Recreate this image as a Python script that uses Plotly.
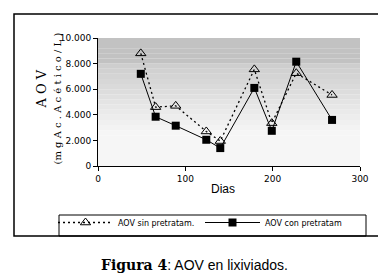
import plotly.graph_objects as go

dias = [49, 66, 89, 124, 140, 179, 199, 227, 268]
aov_sin = [8800, 4600, 4700, 2700, 1950, 7550, 3350, 7250, 5550]
aov_con = [7200, 3850, 3150, 2050, 1400, 6100, 2750, 8150, 3600]

y_tickvals = [0, 2000, 4000, 6000, 8000, 10000]
y_ticktext = ["0", "2.000", "4.000", "6.000", "8.000", "10.000"]
x_tickvals = [0, 100, 200, 300]
x_ticktext = ["0", "100", "200", "300"]

W, H = 386, 278
L, R, T, B = 90, 34, 30, 120
pw, ph = W - L - R, H - T - B


def px_x(p):
    return (p - L) / pw


def px_y(p):
    return (H - B - p) / ph


fig = go.Figure()

fig.add_trace(go.Scatter(
    x=dias, y=aov_sin, name="AOV sin pretratam.",
    mode="lines+markers",
    line=dict(color="black", width=1.3, dash="2px,3px"),
    marker=dict(symbol="triangle-up-open", size=9, color="black", line=dict(width=1)),
))
fig.add_trace(go.Scatter(
    x=dias, y=aov_con, name="AOV con pretratam",
    mode="lines+markers",
    line=dict(color="black", width=1),
    marker=dict(symbol="square", size=8, color="black"),
))

shapes = []
# graded grey background
shapes.append(dict(type="rect", xref="x domain", yref="y", x0=0, x1=1, y0=0, y1=2400,
                   fillcolor="#f6f6f6", line=dict(width=0), layer="below"))
step = 400
y = 2400
while y < 10000:
    y1 = y + step
    mid = y + step / 2
    if mid >= 8000:
        g = 194
    else:
        g = int(round(248 - (mid - 2400) / (8000 - 2400) * (248 - 204)))
    shapes.append(dict(type="rect", xref="x domain", yref="y", x0=0, x1=1, y0=y, y1=y1,
                       fillcolor=f"rgb({g},{g},{g})", line=dict(width=0), layer="below"))
    y = y1
# outer frame
shapes.append(dict(type="rect", xref="paper", yref="paper",
                   x0=px_x(6), x1=px_x(381), y0=px_y(228), y1=px_y(6),
                   line=dict(color="black", width=1.5), fillcolor="rgba(0,0,0,0)"))
# legend frame
shapes.append(dict(type="rect", xref="paper", yref="paper",
                   x0=px_x(51), x1=px_x(358), y0=px_y(228), y1=px_y(207),
                   line=dict(color="black", width=1), fillcolor="rgba(0,0,0,0)"))
fig.update_layout(shapes=shapes)

annotations = [
    dict(text="A O V", x=px_x(23), y=px_y(81), xref="paper", yref="paper",
         textangle=-90, showarrow=False, font=dict(family="DejaVu Serif", size=13, color="black")),
    dict(text="(m g A c . A c é t i c o / L )", x=px_x(41), y=px_y(91), xref="paper", yref="paper",
         textangle=-90, showarrow=False, font=dict(family="DejaVu Serif", size=10, color="black")),
    dict(text="Dias", x=px_x(215), y=px_y(190), xref="paper", yref="paper",
         showarrow=False, font=dict(family="Liberation Sans", size=12, color="black")),
    dict(text="<span style='font-family:DejaVu Serif;font-weight:bold'>Figura 4</span>: AOV en lixiviados.",
         x=px_x(186), y=px_y(267), xref="paper", yref="paper",
         showarrow=False, font=dict(family="Liberation Sans", size=14, color="black")),
]
fig.update_layout(annotations=annotations)

fig.update_layout(
    width=W, height=H,
    margin=dict(l=L, r=R, t=T, b=B),
    paper_bgcolor="white", plot_bgcolor="white",
    showlegend=True,
    legend=dict(
        orientation="h", x=px_x(45), y=px_y(200), xanchor="left", yanchor="top",
        borderwidth=0, bgcolor="rgba(0,0,0,0)",
        font=dict(family="DejaVu Sans", size=8, color="black"),
        entrywidth=77, itemwidth=55, tracegroupgap=0,
    ),
    xaxis=dict(range=[0, 300], tickvals=x_tickvals, ticktext=x_ticktext,
               showgrid=False, zeroline=False, showline=True, linecolor="black", linewidth=1,
               ticks="outside", ticklen=4, tickcolor="black",
               tickfont=dict(family="DejaVu Sans", size=9, color="black")),
    yaxis=dict(range=[0, 10000], tickvals=y_tickvals, ticktext=y_ticktext,
               showgrid=False, zeroline=False, showline=True, linecolor="black", linewidth=1,
               ticks="outside", ticklen=4, tickcolor="black",
               tickfont=dict(family="DejaVu Sans", size=9, color="black")),
)

fig.write_html("out.html")
